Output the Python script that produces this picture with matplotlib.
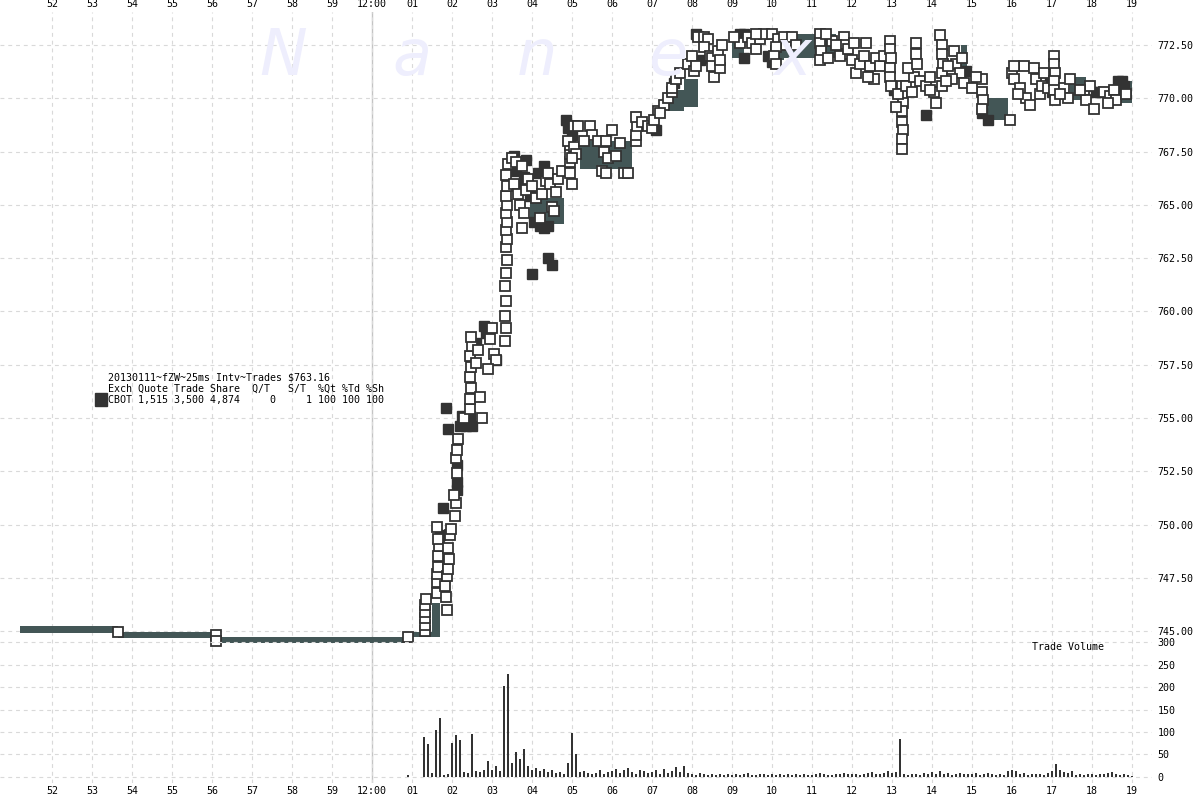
"""
fZW (CBOT wheat) 25ms interval trades around 12:00, 2013-01-11 — tick chart with volume.
"""

import matplotlib
matplotlib.use("Agg")
import matplotlib.pyplot as plt
from matplotlib.patches import Rectangle
import numpy as np

QUOTE = "#435656"
DARK = "#333333"
GRID = "#d9d9d9"
MARK = "#eeeefd"
FONT = "DejaVu Sans Mono"

# minutes relative to 12:00
MIN_TICKS = list(range(-8, 20))
MIN_LABELS = ["52", "53", "54", "55", "56", "57", "58", "59", "12:00"] + [f"{m:02d}" for m in range(1, 20)]
PRICE_TICKS = [745.0, 747.5, 750.0, 752.5, 755.0, 757.5, 760.0, 762.5, 765.0, 767.5, 770.0, 772.5]
VOL_TICKS = [0, 50, 100, 150, 200, 250, 300]

# quote band (step), nan = gap
BAND_T = [-8.8, -6.35, -3.85, 0.95, 1.5, 1.7, np.nan,
          3.95, 4.8, np.nan,
          5.2, 6.5, np.nan,
          7.4, 7.8, 8.15, np.nan,
          9.0, 9.3, np.nan,
          9.95, 10.3, 11.6, np.nan,
          14.72, 14.88, np.nan,
          15.35, 15.9, np.nan,
          17.45, 17.85, np.nan,
          18.6, 19.0]
BAND_LO = [744.9, 744.67, 744.44, 744.72, 744.7, 744.7, np.nan,
           764.1, 764.1, np.nan,
           766.7, 766.7, np.nan,
           769.4, 769.6, 769.6, np.nan,
           771.9, 771.9, np.nan,
           771.8, 771.9, 771.9, np.nan,
           770.6, 770.6, np.nan,
           769.0, 769.0, np.nan,
           769.9, 769.9, np.nan,
           769.8, 769.8]
BAND_HI = [745.23, 744.95, 744.72, 744.95, 746.3, 746.3, np.nan,
           765.3, 765.3, np.nan,
           768.0, 768.0, np.nan,
           770.4, 770.9, 770.9, np.nan,
           772.7, 772.7, np.nan,
           772.5, 773.0, 773.0, np.nan,
           772.5, 772.5, np.nan,
           770.0, 770.0, np.nan,
           771.0, 771.0, np.nan,
           770.8, 770.8]

# trades, white squares
WHITE_T = [-6.35, -3.9, -3.9, 0.9,
           1.33, 1.33, 1.33, 1.33, 1.33, 1.35,
           1.63, 1.63, 1.63, 1.65, 1.65, 1.68, 1.65, 1.62,
           1.87, 1.85, 1.82, 1.88, 1.9, 1.92, 1.9, 1.95, 1.98,
           2.08, 2.1, 2.05, 2.12, 2.1, 2.12, 2.14,
           2.3, 2.45, 2.45, 2.47, 2.45, 2.48, 2.45, 2.5, 2.48,
           2.7, 2.75, 2.6, 2.65, 2.95, 3.05, 3.1, 2.9, 3.0,
           3.33, 3.35, 3.33, 3.35, 3.33, 3.35, 3.37, 3.35, 3.37, 3.35, 3.37, 3.35, 3.37, 3.35, 3.37, 3.35, 3.4,
           3.5, 3.6, 3.75, 3.9, 3.55, 3.65, 3.7, 3.85, 4.0, 4.1, 4.25, 4.35, 4.45, 4.6, 4.5, 3.8, 4.2, 3.75,
           4.55, 4.4, 4.65, 4.75,
           4.95, 4.95, 4.95, 4.95, 5.05, 5.0, 5.15, 5.45, 4.9, 5.05, 5.1, 5.0,
           5.5, 5.65, 5.85, 6.0, 5.8, 5.9, 6.1, 5.75, 5.85, 6.3, 6.4, 5.3, 6.2,
           6.6, 6.6, 6.62, 6.6, 6.75, 6.9, 7.0, 7.15, 7.3, 7.4, 7.5, 7.05, 7.2,
           7.5, 7.6, 7.7, 7.9, 8.0, 8.05, 8.1,
           8.15, 8.3, 8.4, 8.3, 8.45, 8.5, 8.65, 8.75, 8.5, 8.55, 8.7, 8.7,
           9.2, 9.4, 9.5, 9.6, 9.7, 9.05, 9.8, 9.6,
           10.0, 10.15, 10.3, 10.35, 10.1, 10.05, 10.1, 10.5, 10.6,
           11.2, 11.2, 11.22, 11.2, 11.4, 11.5, 11.35,
           11.8, 11.8, 11.82, 11.7, 11.6,
           11.9, 12.0, 12.1, 12.2, 12.3, 12.35, 12.45, 12.55, 12.6, 12.4, 12.7, 12.8, 12.05,
           12.95, 12.95, 12.97, 12.95, 12.95, 12.97,
           13.25, 13.25, 13.27, 13.25, 13.25, 13.27, 13.25, 13.25, 13.15, 13.1,
           13.35, 13.5, 13.55, 13.4, 13.6, 13.6, 13.62,
           13.7, 13.85, 13.95, 14.05, 13.95, 14.1,
           14.2, 14.25, 14.25, 14.27, 14.25, 14.25,
           14.55, 14.6, 14.7, 14.8, 14.5, 14.75, 14.4, 14.35,
           15.25, 15.25, 15.27, 15.25, 15.1, 15.0,
           15.95, 16.0, 16.05, 16.2, 16.35, 16.45, 16.3, 16.05, 16.15,
           16.55, 16.6, 16.7, 16.75, 16.8, 16.9,
           17.05, 17.05, 17.07, 17.05, 17.05, 17.07,
           17.3, 17.4, 17.45, 17.2,
           17.8, 17.85, 17.95, 18.05, 17.7,
           18.3, 18.45, 18.55, 18.6, 18.4, 18.85]
WHITE_P = [744.95, 744.8, 744.55, 744.72,
           745.0, 745.3, 745.6, 745.9, 746.2, 746.5,
           746.8, 747.3, 747.7, 748.0, 748.5, 749.0, 749.3, 749.9,
           746.0, 746.6, 747.1, 747.6, 747.9, 748.4, 748.9, 749.5, 749.8,
           750.4, 751.0, 751.4, 752.4, 753.1, 753.5, 754.0,
           755.0, 755.4, 755.9, 756.4, 756.9, 757.4, 757.9, 758.4, 758.8,
           756.0, 755.0, 757.6, 758.2, 758.7, 758.0, 757.7, 757.3, 759.2,
           758.6, 759.2, 759.8, 760.5, 761.2, 761.8, 762.4, 763.0, 763.4, 763.8, 764.2, 764.6, 765.0, 765.4, 765.9, 766.4, 766.9,
           767.2, 767.0, 766.8, 766.2, 766.0, 765.5, 765.0, 765.7, 765.9, 765.3, 765.5, 766.1, 766.0, 765.6, 764.9, 764.6, 764.4, 763.9,
           764.7, 766.5, 766.2, 766.6,
           766.5, 767.0, 767.4, 767.8, 768.7, 766.0, 768.7, 768.7, 768.0, 767.7, 767.4, 767.2,
           768.3, 768.0, 768.0, 768.5, 767.5, 767.2, 767.3, 766.6, 766.5, 766.5, 766.5, 768.0, 767.9,
           768.0, 768.3, 768.7, 769.1, 768.9, 768.7, 768.6, 769.4, 769.7, 770.0, 770.3, 769.0, 769.3,
           770.5, 770.9, 771.2, 771.6, 772.0, 771.3, 771.5,
           772.9, 772.9, 772.8, 772.4, 772.0, 771.9, 772.2, 772.5, 771.5, 771.0, 771.4, 771.8,
           772.6, 772.9, 772.6, 772.3, 772.8, 772.9, 773.0, 773.0,
           773.0, 772.8, 772.9, 772.5, 772.4, 772.0, 771.6, 772.9, 772.5,
           773.0, 772.6, 772.2, 771.8, 771.9, 772.7, 773.0,
           772.9, 772.5, 772.1, 772.0, 772.5,
           772.3, 771.8, 771.2, 771.6, 772.0, 772.6, 771.5, 770.9, 771.9, 771.0, 771.5, 772.0, 772.6,
           772.7, 772.3, 771.9, 771.4, 771.0, 770.6,
           770.6, 770.2, 769.8, 769.4, 768.9, 768.5, 768.1, 767.6, 770.2, 769.6,
           770.6, 770.3, 771.0, 771.4, 772.6, 772.1, 771.6,
           770.8, 770.6, 771.0, 770.3, 770.4, 769.8,
           772.95, 772.5, 772.1, 771.6, 771.2, 770.6,
           772.2, 771.6, 771.2, 770.7, 770.9, 771.9, 771.5, 770.8,
           770.9, 770.3, 769.9, 769.5, 771.0, 770.5,
           769.0, 771.2, 770.9, 770.5, 770.0, 769.7, 771.5, 771.5, 770.2,
           771.4, 770.9, 770.2, 770.6, 771.2, 770.5,
           772.0, 771.6, 771.2, 770.8, 770.4, 769.9,
           770.5, 770.0, 770.9, 770.2,
           770.4, 769.9, 770.6, 769.5, 770.4,
           770.3, 770.1, 770.4, 769.9, 769.8, 770.2]

# trades, dark squares
DARK_T = [1.7, 1.77, 1.85, 1.9, 2.12, 2.12, 2.12, 2.35, 2.5, 2.25, 2.45, 2.8, 2.85, 3.1, 2.2, 2.6,
          4.0, 4.4, 4.5,
          3.6, 3.8, 3.95, 4.05, 4.2, 4.3, 4.4, 3.7, 4.15, 4.3, 3.85, 3.55,
          4.85, 4.9, 5.0,
          7.1, 7.55, 8.1, 8.2,
          9.2, 9.3, 9.3, 9.9, 10.0, 11.2,
          13.85, 14.85, 15.4, 15.25, 16.95, 17.0,
          18.1, 18.2, 18.65, 18.75, 18.8, 13.05]
DARK_P = [749.5, 750.77, 755.45, 754.5, 751.6, 752.0, 752.8, 754.6, 754.6, 755.1, 755.1, 759.3, 759.0, 757.7, 754.6, 758.5,
          761.75, 762.5, 762.2,
          766.6, 766.3, 765.4, 764.2, 764.0, 763.9, 764.0, 765.8, 766.5, 766.8, 767.1, 767.3,
          769.0, 768.6, 768.3,
          768.5, 770.7, 773.0, 771.8,
          773.0, 773.0, 771.9, 772.0, 771.7, 772.2,
          769.2, 771.3, 769.0, 769.3, 771.05, 770.3,
          770.3, 770.3, 770.8, 770.8, 770.6, 770.4]

# trade volume per 0.1 minute, starting at 12:00:54 (0.9 min)
VOL_START = 0.9
VOLUME = [4,
          0, 0, 0, 88, 72, 9, 104, 131, 3, 6,
          75, 93, 83, 10, 8, 95, 12, 10, 14, 36,
          15, 25, 12, 203, 229, 30, 56, 40, 62, 25,
          15, 20, 12, 18, 10, 14, 8, 10, 6, 30,
          97, 51, 10, 12, 8, 6, 9, 14, 6, 10,
          12, 18, 8, 14, 20, 10, 6, 16, 12, 8,
          10, 14, 6, 18, 8, 12, 22, 10, 25, 8,
          6, 4, 8, 5, 3, 6, 4, 7, 3, 5,
          4, 6, 3, 5, 8, 4, 3, 6, 5, 4,
          5, 3, 6, 4, 7, 3, 5, 4, 6, 3,
          4, 6, 8, 5, 3, 4, 6, 5, 8, 6,
          5, 7, 4, 6, 8, 10, 6, 5, 9, 12,
          8, 10, 85, 6, 4, 7, 5, 3, 8, 6,
          10, 7, 12, 5, 8, 4, 6, 9, 5, 7,
          5, 8, 4, 6, 9, 5, 3, 6, 4, 12,
          15, 12, 6, 8, 4, 7, 5, 6, 3, 8,
          12, 28, 16, 10, 8, 12, 4, 6, 3, 5,
          7, 4, 6, 5, 8, 10, 6, 4, 5, 3,
          2]

LEGEND_LINES = [
    "20130111~fZW~25ms Intv~Trades $763.16",
    "Exch Quote Trade Share  Q/T   S/T  %Qt %Td %Sh",
    "CBOT 1,515 3,500 4,874     0     1 100 100 100",
]

plt.rcParams.update({"font.family": FONT, "font.size": 7.2})

fig = plt.figure(figsize=(12, 8), dpi=100)
# plot area: x 0..1152 px, y 12..783 px
pos = [0.0, 17 / 800, 1152 / 1200, 771 / 800]

ax = fig.add_axes(pos)
vax = fig.add_axes(pos, sharex=ax)
vax.patch.set_alpha(0)

# watermark
for ch, xp in zip("Nanex", [283, 412, 537, 668, 793]):
    fig.text(xp / 1200, 1 - 75 / 800, ch, fontsize=46, style="italic", color=MARK,
             ha="center", va="baseline", family="DejaVu Sans", zorder=0)

dash = (0, (3.5, 3.5))
ax.set_xlim(-9.3, 19.5)
ax.set_ylim(737.87, 774.05)
ax.set_xticks(MIN_TICKS)
ax.set_xticklabels(MIN_LABELS)
ax.set_yticks(PRICE_TICKS)
ax.set_yticklabels([f"{p:.2f}" for p in PRICE_TICKS])
ax.grid(True, color=GRID, linestyle=dash, linewidth=0.8)
ax.axvline(0, color="#c4c4c4", linewidth=1.0, zorder=1)
ax.tick_params(axis="x", which="both", top=True, labeltop=True, bottom=True, labelbottom=True,
               length=0, pad=2)
ax.tick_params(axis="y", left=False, labelleft=False, right=True, labelright=True, length=0, pad=4)
for s in ax.spines.values():
    s.set_visible(False)

band_t = np.array(BAND_T)
band_lo = np.array(BAND_LO)
band_hi = np.array(BAND_HI)
ok = np.isfinite(band_t)
seg_start = 0
for i in range(len(band_t) + 1):
    if i == len(band_t) or not ok[i]:
        if i - seg_start > 1:
            sl = slice(seg_start, i)
            ax.fill_between(band_t[sl], band_lo[sl], band_hi[sl], step="post",
                            color=QUOTE, linewidth=0, zorder=2)
        seg_start = i + 1

ax.plot(DARK_T, DARK_P, "s", ms=7.8, color=DARK, mec=DARK, mew=1.0, zorder=3, linestyle="none")
ax.plot(WHITE_T, WHITE_P, "s", ms=7.5, mfc="white", mec=DARK, mew=1.3, zorder=4, linestyle="none")

# volume panel
vol_t = VOL_START + 0.1 * np.arange(len(VOLUME))
vax.bar(vol_t, VOLUME, width=0.05, color=DARK, zorder=3)
vax.set_ylim(-14.06, 1706.9)
vax.set_yticks(VOL_TICKS)
vax.grid(True, axis="y", color=GRID, linestyle=dash, linewidth=0.8)
vax.grid(False, axis="x")
vax.tick_params(axis="y", left=False, labelleft=False, right=True, labelright=True, length=0, pad=4)
vax.tick_params(axis="x", bottom=False, labelbottom=False, top=False, labeltop=False)
for s in vax.spines.values():
    s.set_visible(False)
fig.text(1032 / 1200, 1 - 647 / 800, "Trade Volume", ha="left", va="center", fontsize=7.2)

# legend block
for i, line in enumerate(LEGEND_LINES):
    fig.text(108 / 1200, 1 - (378 + 11 * i) / 800, line, ha="left", va="center", fontsize=7.2)
fig.patches.append(Rectangle((95 / 1200, 1 - 406 / 800), 12 / 1200, 13 / 800,
                             transform=fig.transFigure, color=DARK, figure=fig))

fig.savefig("out.png", dpi=100)
plt.close(fig)
